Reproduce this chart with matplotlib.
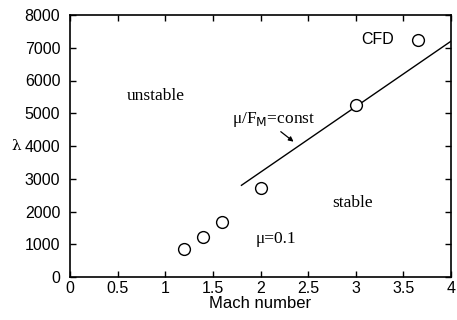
import numpy as np
import matplotlib
matplotlib.use("Agg")
import matplotlib.pyplot as plt

# CFD points
mach = [1.2, 1.4, 1.6, 2.0, 3.0, 3.65]
lam = [870, 1230, 1680, 2710, 5260, 7240]

# mu/F_M = const line
line_mach = [1.8, 4.0]
line_lam = [2800, 7200]

xticks = [0, 0.5, 1, 1.5, 2, 2.5, 3, 3.5, 4]
xticklabels = ["0", "0.5", "1", "1.5", "2", "2.5", "3", "3.5", "4"]
yticks = [0, 1000, 2000, 3000, 4000, 5000, 6000, 7000, 8000]

plt.rcParams['font.family'] = ['Liberation Sans', 'DejaVu Sans']

fig = plt.figure(figsize=(4.57, 3.2), dpi=100)
ax = fig.add_axes([70 / 457, 43 / 320, 381 / 457, 262 / 320])

ax.plot(line_mach, line_lam, color="black", lw=1.0)
ax.plot(mach, lam, linestyle="none", marker="o", ms=8.5, mfc="white",
        mec="black", mew=1.0, clip_on=False)

ax.set_xlim(0, 4)
ax.set_ylim(0, 8000)
ax.set_xticks(xticks)
ax.set_xticklabels(xticklabels)
ax.set_yticks(yticks)
ax.tick_params(direction="in", top=True, right=True, length=4, width=1,
               labelsize=11.5, pad=3)
ax.tick_params(axis="y", pad=7)
for s in ax.spines.values():
    s.set_linewidth(1.2)

ax.set_xlabel("Mach number", fontsize=12, labelpad=0)
ax.set_ylabel("λ", fontsize=11, rotation=0, va="center",
              family=["DejaVu Serif"])
ax.yaxis.set_label_coords(-0.14, 0.5)

serif = ["Liberation Serif", "DejaVu Serif"]
ax.text(0.90, 5530, "unstable", fontsize=12.5, family=serif, ha="center", va="center")
ax.text(2.97, 2260, "stable", fontsize=12.5, family=serif, ha="center", va="center")
ax.text(2.16, 1160, "μ=0.1", fontsize=12.5, family=serif, ha="center", va="center")
ax.text(3.23, 7240, "CFD", fontsize=11.5, ha="center", va="center")
ax.text(2.14, 4800, "μ/F$_{\\rm M}$=const", fontsize=12.5, family=serif,
        ha="center", va="center")
ax.annotate("", xy=(2.37, 4080), xytext=(2.19, 4490),
            arrowprops=dict(arrowstyle="-|>", color="black", lw=0.9,
                            mutation_scale=7))

fig.savefig("out.png", dpi=100)
